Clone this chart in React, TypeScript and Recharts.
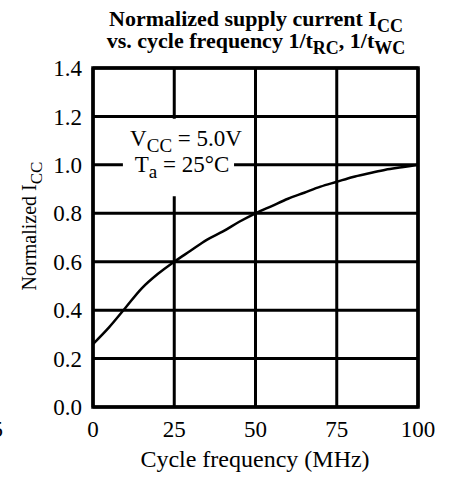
import { LineChart, Line, XAxis, YAxis, CartesianGrid, ReferenceArea } from 'recharts'

const freqMHz = [0, 5, 10, 15, 20, 25, 30, 35, 40, 45, 50, 55, 60, 65, 70, 75, 80, 85, 90, 95, 100]
const normIcc = [0.26, 0.33, 0.41, 0.49, 0.55, 0.6, 0.645, 0.69, 0.725, 0.765, 0.8, 0.83, 0.86, 0.885, 0.91, 0.93, 0.95, 0.965, 0.98, 0.99, 1.0]
const xTicks = [0, 25, 50, 75, 100]
const yTicks = [0, 0.2, 0.4, 0.6, 0.8, 1.0, 1.2, 1.4]

const data = freqMHz.map((f, i) => ({ f, icc: normIcc[i] }))

const font = '"Liberation Serif", "DejaVu Serif", serif'
const tick = { fill: '#000', fontSize: 23, fontFamily: font }

export default function App() {
  return (
    <div style={{ position: 'absolute', left: 0, top: 0, width: 453, height: 478, background: '#fff' }}>
      <LineChart width={453} height={478} data={data} margin={{ top: 68, right: 35, bottom: 41, left: 0 }}>
        <CartesianGrid stroke="#000" strokeWidth={3} />
        <ReferenceArea x1={9.2} x2={43.4} y1={0.87} y2={1.19} fill="#fff" fillOpacity={1} stroke="none" />
        <ReferenceArea x1={0} x2={100} y1={0} y2={1.4} fill="none" stroke="#000" strokeWidth={3.5} />
        <XAxis
          dataKey="f"
          type="number"
          domain={[0, 100]}
          ticks={xTicks}
          tick={tick}
          tickLine={false}
          axisLine={false}
          tickMargin={8}
          interval={0}
        />
        <YAxis
          type="number"
          domain={[0, 1.4]}
          ticks={yTicks}
          tick={tick}
          tickLine={false}
          axisLine={false}
          tickMargin={5}
          width={93}
          interval={0}
          tickFormatter={(v: number) => v.toFixed(1)}
        />
        <Line type="monotone" dataKey="icc" stroke="#000" strokeWidth={2.5} dot={false} isAnimationActive={false} />
      </LineChart>
      <svg width={453} height={478} style={{ position: 'absolute', left: 0, top: 0, pointerEvents: 'none' }} fontFamily={font}>
        <text x={256} y={26} textAnchor="middle" fontSize={22} fontWeight="bold">
          Normalized supply current I<tspan fontSize={18} dy={6}>CC</tspan>
        </text>
        <text x={256} y={48} textAnchor="middle" fontSize={22} fontWeight="bold">
          vs. cycle frequency 1/t<tspan fontSize={18} dy={6}>RC</tspan>
          <tspan dy={-6}>, 1/t</tspan>
          <tspan fontSize={18} dy={6}>WC</tspan>
        </text>
        <text x={186} y={146} textAnchor="middle" fontSize={23}>
          V<tspan fontSize={19} dy={6}>CC</tspan>
          <tspan dy={-6}> = 5.0V</tspan>
        </text>
        <text x={182} y={172} textAnchor="middle" fontSize={23}>
          T<tspan fontSize={19} dy={6}>a</tspan>
          <tspan dy={-6}> = 25°C</tspan>
        </text>
        <text transform="translate(36,226) rotate(-90)" textAnchor="middle" fontSize={20}>
          Normalized I<tspan fontSize={17} dy={6}>CC</tspan>
        </text>
        <text x={255} y={467} textAnchor="middle" fontSize={24}>
          Cycle frequency (MHz)
        </text>
        <text x={3} y={437} textAnchor="end" fontSize={23}>
          5
        </text>
      </svg>
    </div>
  )
}
